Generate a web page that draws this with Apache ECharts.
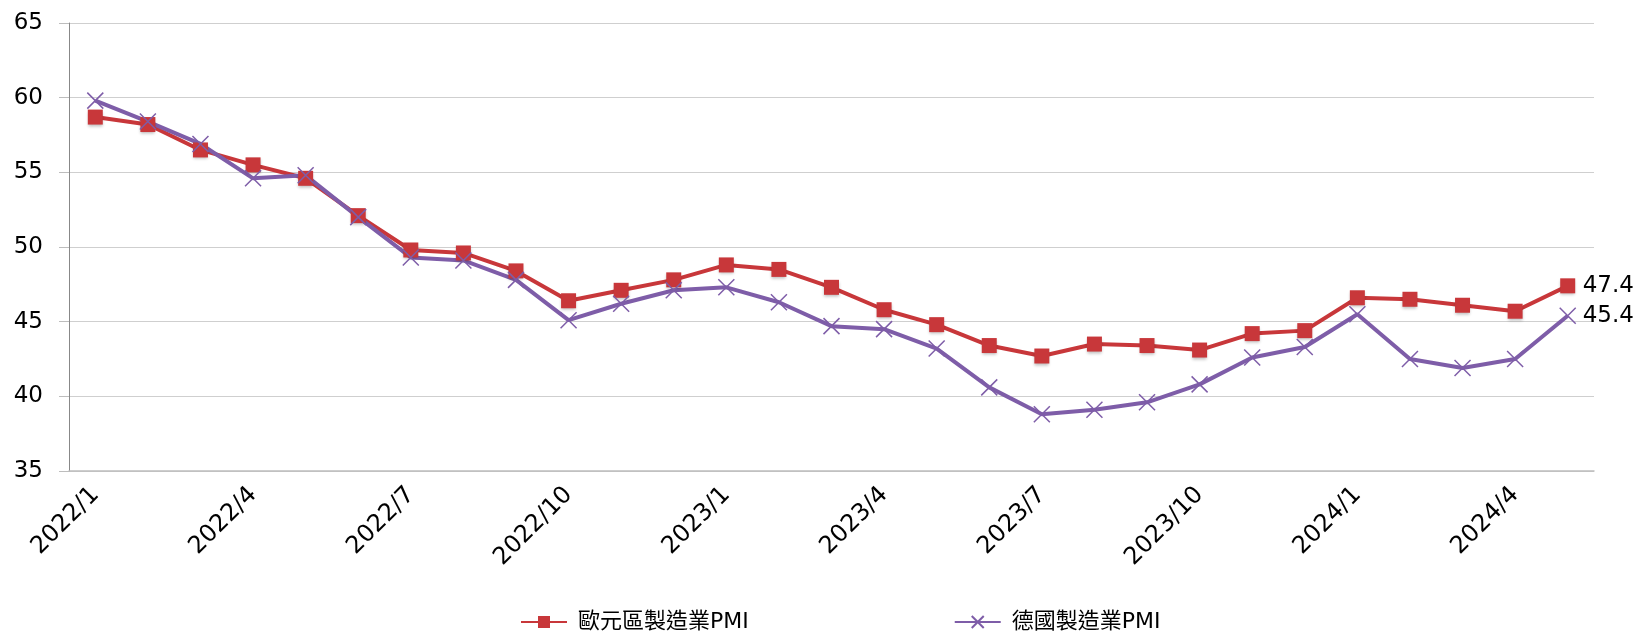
<!DOCTYPE html>
<html>
<head>
<meta charset="utf-8">
<script src="https://cdn.jsdelivr.net/npm/echarts@6/dist/echarts.min.js"></script>
<style>
  html, body { margin: 0; padding: 0; background: #fff; }
  #chart { width: 1636px; height: 633px; }
</style>
</head>
<body>
<div id="chart"></div>
<script>
// 月份
const months = [
  '2022/1', '2022/2', '2022/3', '2022/4', '2022/5', '2022/6', '2022/7', '2022/8', '2022/9', '2022/10', '2022/11', '2022/12',
  '2023/1', '2023/2', '2023/3', '2023/4', '2023/5', '2023/6', '2023/7', '2023/8', '2023/9', '2023/10', '2023/11', '2023/12',
  '2024/1', '2024/2', '2024/3', '2024/4', '2024/5'
];
// 歐元區製造業PMI
const euroPmi = [
  58.7, 58.2, 56.5, 55.5, 54.6, 52.1, 49.8, 49.6, 48.4, 46.4, 47.1, 47.8,
  48.8, 48.5, 47.3, 45.8, 44.8, 43.4, 42.7, 43.5, 43.4, 43.1, 44.2, 44.4,
  46.6, 46.5, 46.1, 45.7, 47.4
];
// 德國製造業PMI
const germanyPmi = [
  59.8, 58.4, 56.9, 54.6, 54.8, 52.0, 49.3, 49.1, 47.8, 45.1, 46.2, 47.1,
  47.3, 46.3, 44.7, 44.5, 43.2, 40.6, 38.8, 39.1, 39.6, 40.8, 42.6, 43.3,
  45.5, 42.5, 41.9, 42.5, 45.4
];
const yTicks = [35, 40, 45, 50, 55, 60, 65];

const red = '#C8373A';
const purple = '#7E5DA8';
const font = '"DejaVu Sans", "Noto Sans CJK TC", sans-serif';

const chart = echarts.init(document.getElementById('chart'));

chart.setOption({
  animation: false,
  textStyle: { fontFamily: font, color: '#000' },
  grid: { left: 69, right: 42, top: 23, bottom: 162, containLabel: false },
  legend: {
    left: 520,
    top: 611,
    padding: 0,
    itemGap: 205,
    itemWidth: 46,
    itemHeight: 15,
    textStyle: { fontSize: 22, color: '#000', fontFamily: font, padding: [0, 0, 0, 6] }
  },
  xAxis: {
    type: 'category',
    data: months,
    boundaryGap: true,
    axisLine: { lineStyle: { color: '#bdbdbd', width: 1.5 } },
    axisTick: {
      length: 8,
      lineStyle: { color: '#999' },
      interval: (i) => i % 3 === 0
    },
    axisLabel: {
      interval: (i) => i % 3 === 0,
      rotate: 45,
      fontSize: 24,
      margin: 20,
      color: '#000'
    }
  },
  yAxis: {
    type: 'value',
    min: yTicks[0],
    max: yTicks[yTicks.length - 1],
    interval: 5,
    axisLine: { show: true, lineStyle: { color: '#888' } },
    axisTick: { show: true, length: 10, lineStyle: { color: '#bdbdbd' } },
    axisLabel: { fontSize: 23, color: '#000', margin: 26 },
    splitLine: { lineStyle: { color: '#cfcfcf', width: 1.2 } }
  },
  series: [
    {
      name: '歐元區製造業PMI',
      type: 'line',
      data: euroPmi,
      symbol: 'rect',
      symbolSize: 15,
      lineStyle: { color: red, width: 4 },
      itemStyle: {
        color: red,
        shadowColor: 'rgba(0,0,0,0.25)',
        shadowBlur: 3,
        shadowOffsetY: 2
      },
      endLabel: {
        show: true,
        fontSize: 23,
        color: '#000',
        distance: 15,
        formatter: (p) => p.value.toFixed(1)
      }
    },
    {
      name: '德國製造業PMI',
      type: 'line',
      data: germanyPmi,
      symbol: 'path://M0,0L10,10M10,0L0,10',
      symbolSize: 16,
      lineStyle: { color: purple, width: 4 },
      itemStyle: { color: 'none', borderColor: purple, borderWidth: 1.5 },
      endLabel: {
        show: true,
        fontSize: 23,
        color: '#000',
        distance: 15,
        formatter: (p) => p.value.toFixed(1)
      }
    }
  ]
});
</script>
</body>
</html>
